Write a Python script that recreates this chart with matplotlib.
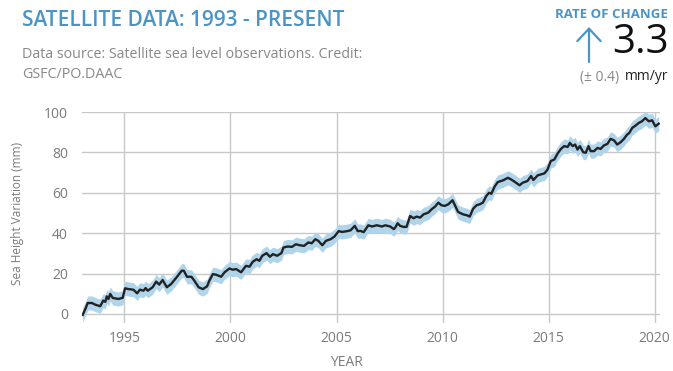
import matplotlib
matplotlib.use("Agg")
import matplotlib.pyplot as plt
from matplotlib.patches import FancyArrowPatch
import numpy as np

years = [1993.03, 1993.16, 1993.27, 1993.47, 1993.62, 1993.86, 1994.0, 1994.1, 1994.17, 1994.25,
         1994.33, 1994.45, 1994.72, 1994.92, 1995.03, 1995.19, 1995.42, 1995.6, 1995.73, 1995.9,
         1996.0, 1996.1, 1996.33, 1996.5, 1996.64, 1996.8, 1997.0, 1997.2, 1997.45, 1997.7,
         1997.8, 1997.95, 1998.16, 1998.3, 1998.5, 1998.7, 1998.9, 1999.0, 1999.17, 1999.33,
         1999.56, 1999.72, 1999.95, 2000.1, 2000.27, 2000.5, 2000.73, 2000.9, 2001.05, 2001.23,
         2001.36, 2001.5, 2001.7, 2001.86, 2002.0, 2002.2, 2002.4, 2002.5, 2002.7, 2002.9,
         2003.08, 2003.27, 2003.47, 2003.67, 2003.83, 2004.0, 2004.14, 2004.33, 2004.5, 2004.72,
         2004.9, 2005.1, 2005.27, 2005.5, 2005.66, 2005.86, 2006.0, 2006.13, 2006.28, 2006.5,
         2006.67, 2006.9, 2007.14, 2007.3, 2007.53, 2007.7, 2007.77, 2007.88, 2008.0, 2008.16,
         2008.3, 2008.47, 2008.63, 2008.78, 2008.94, 2009.1, 2009.33, 2009.48, 2009.64, 2009.8,
         2009.95, 2010.1, 2010.27, 2010.47, 2010.58, 2010.73, 2010.97, 2011.16, 2011.28, 2011.44,
         2011.6, 2011.75, 2011.9, 2012.06, 2012.19, 2012.3, 2012.45, 2012.6, 2012.84, 2013.08,
         2013.23, 2013.39, 2013.63, 2013.78, 2014.0, 2014.17, 2014.28, 2014.48, 2014.64, 2014.8,
         2014.95, 2015.1, 2015.27, 2015.42, 2015.58, 2015.73, 2015.9, 2016.0, 2016.13, 2016.25,
         2016.36, 2016.47, 2016.63, 2016.75, 2016.88, 2016.98, 2017.14, 2017.3, 2017.45, 2017.6,
         2017.77, 2017.92, 2018.08, 2018.23, 2018.39, 2018.55, 2018.7, 2018.8, 2018.94, 2019.1,
         2019.25, 2019.4, 2019.56, 2019.72, 2019.88, 2020.03, 2020.19]

sea_height = [-0.5, 2.5, 5.4, 5.4, 4.6, 3.8, 6.6, 6.0, 8.7, 7.4,
              9.9, 7.9, 7.4, 8.0, 12.7, 12.3, 12.0, 10.2, 12.0, 11.5,
              12.8, 11.5, 13.2, 16.0, 14.5, 16.8, 13.2, 14.8, 18.0, 21.4,
              21.4, 18.4, 18.4, 16.4, 13.2, 12.3, 13.7, 16.4, 19.7, 19.4,
              18.4, 20.6, 22.5, 21.9, 22.2, 20.6, 23.8, 23.4, 25.8, 27.1,
              26.3, 28.8, 30.1, 28.3, 29.6, 28.8, 30.1, 32.9, 33.4, 33.2,
              34.5, 34.0, 33.7, 35.4, 35.0, 37.0, 36.2, 34.0, 36.2, 37.0,
              38.3, 41.0, 40.6, 41.0, 41.4, 43.6, 41.0, 41.1, 40.5, 43.9,
              43.3, 43.9, 43.3, 43.9, 43.3, 42.0, 42.8, 44.9, 43.6, 43.1,
              43.1, 48.5, 47.4, 48.2, 47.7, 49.3, 50.2, 51.8, 53.1, 55.1,
              53.8, 53.5, 54.3, 56.3, 53.8, 50.5, 49.3, 48.8, 48.2, 52.1,
              53.8, 54.3, 55.1, 58.4, 60.0, 59.5, 63.0, 65.3, 66.1, 67.4,
              66.6, 65.5, 63.7, 65.0, 65.8, 68.3, 66.3, 68.6, 69.1, 69.6,
              71.5, 75.7, 76.5, 79.4, 81.7, 83.1, 82.7, 84.7, 83.1, 83.9,
              81.4, 83.1, 80.1, 79.8, 83.1, 80.6, 80.6, 82.2, 81.7, 83.4,
              84.2, 86.7, 86.0, 83.9, 85.0, 86.7, 88.8, 89.6, 92.1, 93.3,
              94.6, 95.4, 97.0, 95.4, 95.9, 92.9, 94.2]

uncertainty = 3.5  # half-width of the shaded band (mm)

x_ticks = [1995, 2000, 2005, 2010, 2015, 2020]
y_ticks = [0, 20, 40, 60, 80, 100]

plt.rcParams['font.family'] = ['Open Sans', 'DejaVu Sans']

BLUE = '#4a94c6'
GRAY = '#7a7a7a'

fig = plt.figure(figsize=(6.73, 3.71), dpi=100)
W, H = 673, 371


def fx(px):
    return px / W


def fy(py):
    return 1 - py / H


ax = fig.add_axes([fx(82), fy(323), (660 - 82) / W, (323 - 112) / H])

y = np.array(sea_height)
ax.fill_between(years, y - uncertainty, y + uncertainty, color='#b0d4ea', lw=0, zorder=2)
ax.plot(years, y, color='#222222', lw=1.7, zorder=3)

ax.set_xlim(1993.0, 2020.25)
ax.set_ylim(-4.5, 100)
ax.set_xticks(x_ticks)
ax.set_yticks(y_ticks)
ax.grid(True, color='#c8c8c8', lw=1, zorder=1)
for s in ax.spines.values():
    s.set_visible(False)
ax.tick_params(length=0, colors=GRAY, labelsize=10)
ax.tick_params(axis='y', pad=10)
ax.tick_params(axis='x', pad=6)

fig.text(fx(346), fy(363), 'YEAR', color=GRAY, fontsize=10, va='center', ha='center')
fig.text(fx(18), fy(213), 'Sea Height Variation (mm)', color=GRAY, fontsize=8.5,
         rotation=90, va='center', ha='center')

fig.text(fx(22), fy(20), 'SATELLITE DATA: 1993 - PRESENT', color=BLUE,
         fontsize=15, fontweight='semibold', va='center', ha='left')
fig.text(fx(22), fy(55), 'Data source: Satellite sea level observations. Credit:',
         color='#888888', fontsize=10.3, va='center', ha='left')
fig.text(fx(22), fy(74), 'GSFC/PO.DAAC', color='#888888', fontsize=10.3, va='center', ha='left')

fig.text(fx(668), fy(15), 'RATE OF CHANGE', color=BLUE, fontsize=9.5,
         fontweight='bold', va='center', ha='right')
fig.text(fx(669), fy(43), '3.3', color='#111111', fontsize=29, va='center', ha='right')
arrow = FancyArrowPatch((fx(589), fy(62)), (fx(589), fy(27)), transform=fig.transFigure,
                        arrowstyle='->,head_length=0.45,head_width=0.42', mutation_scale=20,
                        color=BLUE, lw=1.6, shrinkA=0, shrinkB=0)
fig.add_artist(arrow)
fig.text(fx(668), fy(77), 'mm/yr', color='#222222', fontsize=10, va='center', ha='right')
fig.text(fx(619), fy(77), '(\u00b1 0.4)', color='#888888', fontsize=10, va='center', ha='right')

fig.savefig('out.png', dpi=100)
